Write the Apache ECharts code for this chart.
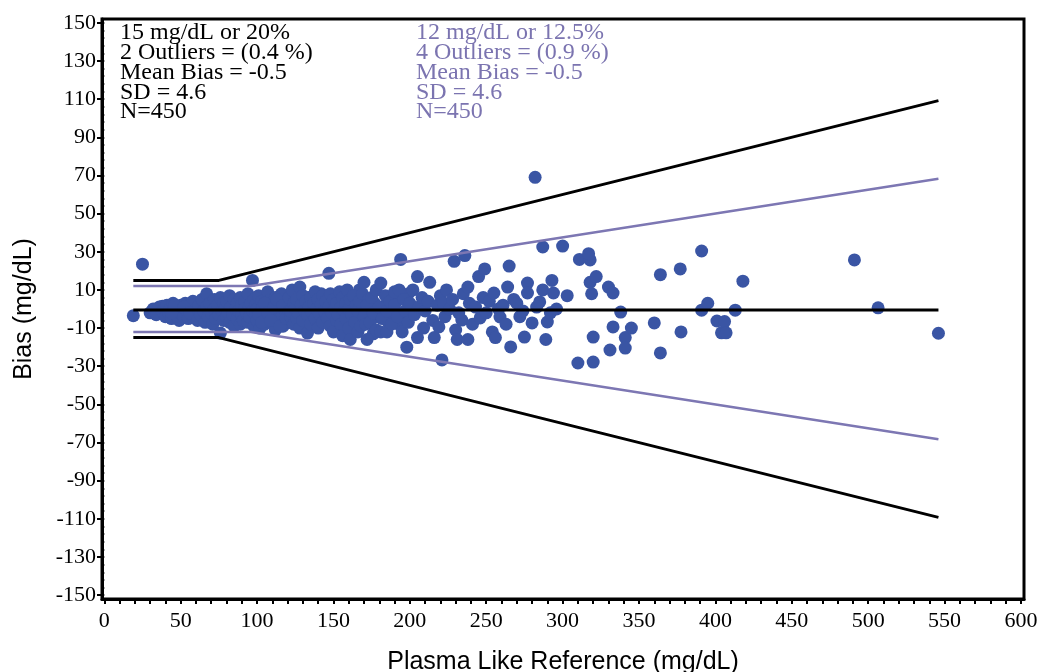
<!DOCTYPE html>
<html>
<head>
<meta charset="utf-8">
<script src="https://cdn.jsdelivr.net/npm/echarts@6/dist/echarts.min.js"></script>
<style>html,body{margin:0;padding:0;background:#fff;}#c{width:1043px;height:672px;}</style>
</head>
<body>
<div id="c"></div>
<script>
// ---- data ----
const xTickLabels = [0,50,100,150,200,250,300,350,400,450,500,550,600];
const xTicks = [0,10,20,30,40,50,60,70,80,90,100,110,120,130,140,150,160,170,180,190,200,210,220,230,240,250,260,270,280,290,300,310,320,330,340,350,360,370,380,390,400,410,420,430,440,450,460,470,480,490,500,510,520,530,540,550,560,570,580,590,600];
const yTickLabels = [-150,-130,-110,-90,-70,-50,-30,-10,10,30,50,70,90,110,130,150];
const yMinorTicks = [-150,-146,-142,-138,-134,-130,-126,-122,-118,-114,-110,-106,-102,-98,-94,-90,-86,-82,-78,-74,-70,-66,-62,-58,-54,-50,-46,-42,-38,-34,-30,-26,-22,-18,-14,-10,-6,-2,2,6,10,14,18,22,26,30,34,38,42,46,50,54,58,62,66,70,74,78,82,86,90,94,98,102,106,110,114,118,122,126,130,134,138,142,146,150];

const limit15Upper = [[19,15],[75,15],[546,109.2]];
const limit15Lower = [[19,-15],[75,-15],[546,-109.2]];
const limit12Upper = [[19,12],[96,12],[546,68.25]];
const limit12Lower = [[19,-12],[96,-12],[546,-68.25]];
const meanBiasLine = [[19,-0.5],[546,-0.5]];

const leftText = ["15 mg/dL or 20%","2 Outliers = (0.4 %)","Mean Bias = -0.5","SD = 4.6","N=450"];
const rightText = ["12 mg/dL or 12.5%","4 Outliers = (0.9 %)","Mean Bias = -0.5","SD = 4.6","N=450"];

const points = [
[19,-3.5],[25,23.5],[38,1.5],
[30,-2],[32,0],[34,-3],[36,1],[38,-1],[40,-4],[41,2],[42,-2],[43,0],[44,-5],[45,3],[46,-1],[47,-3],[48,1],[49,-6],[50,2],[50,-2],[51,0],[52,-4],[53,3],[54,-1],[55,-5],[56,1],[57,-3],[58,4],[59,-2],[60,0],
[44,-2],[46,2],[52,1],[56,-2],[62,-1],[64,-4],[68,1],[70,4],[74,-1],[78,-2],[84,2],[86,-6],[88,4],[91,1],[93,-5],[96,-2],[98,0],
[61,-6],[62,2],[63,-3],[64,5],[65,-1],[66,-7],[67,8],[67,1],[68,-4],[69,3],[70,-2],[71,-8],[72,0],[72,5],[73,-5],[74,2],[75,-3],[76,-12.6],[76,6],[77,-1],[78,-6],[78,3],[79,0],[80,-4],[80,4],
[81,-2],[82,7],[82,-7],[83,1],[84,-3],[85,5],[85,-9],[86,0],[87,-5],[87,3],[88,-1],[89,6],[89,-8],[90,2],[90,-3],[91,-6],[92,4],[92,0],[93,-2],[94,8],[94,-7],[95,1],[95,-4],[96,3],[97,15],[97,-1],[98,-9],[98,5],[99,-3],[99,2],[100,0],[100,-6],
[101,7],[102,-2],[102,-10],[103,4],[104,-5],[104,1],[105,-8],[106,3],[106,-1],[107,9],[108,-4],[108,0],[109,5],[110,-7],[110,2],[111,-3],[112,6],[112,-11],[113,-1],[114,3],[114,-6],[115,1],[116,-4],[116,8],[117,-9],[118,0],[118,4],[119,-2],[120,-7],[120,2],
[101,-3],[103,-7],[105,3],[107,-2],[109,-6],[111,1],[113,5],[115,-9],[117,2],[119,-5],[121,-1],[123,-6],[125,4],[127,-8],[129,-3],[131,3],[132,-9],[134,6],[136,-6],[137,-1],[139,4],[141,-8],[142,8],[144,-4],[146,2],[149,-7],[151,4],[153,-10],[154,-1],[157,5],[159,-7],[162,1],[163,-11],[165,-5],[167,10],[168,-2],[169,3],
[121,6],[122,-4],[122,-1],[123,10],[124,3],[124,-8],[125,0],[126,-5],[126,5],[127,-2],[128,11.5],[128,-10],[129,2],[130,-6],[130,7],[131,-1],[132,4],[133,-12.6],[133,-3],[134,1],[135,-8],[135,6],[136,-2],[137,3],[138,-5],[138,9],[139,0],[140,-10],[140,5],[141,-3],[142,2],[143,-7],[143,7],[144,-1],[145,4],
[146,-5],[147,18.7],[147,1],[148,-9],[148,8],[149,-2],[150,5],[150,-12],[151,0],[152,-6],[152,3],[153,-3],[154,9],[155,-8],[155,1],[156,-14],[156,6],[157,-1],[158,-5],[158,3],[159,10],[160,-10],[160,0],[161,-16],[161,5],[162,-3],[163,7],[164,-7],[165,2],[166,-12],[166,-1],[167,4],[168,-9],[169,8],[170,14],[170,-4],
[171,-8],[173,5],[176,-13],[177,3],[179,-4],[183,1],[186,-7],[189,-2],[191,6],[194,-9],[196,-3],[199,8],
[172,-16],[172,2],[174,-7],[175,6],[176,-2],[178,10],[178,-11],[180,1],[181,13.6],[181,-12],[182,-5],[184,7],[185,-12],[185,-1],[187,4],[188,-8],[190,2],[190,9],[192,-4],[193,10],[194,26],[195,-12],[196,5],[197,-1],[198,-20],[199,-7],[200,3],
[202,10],[203,-3],[205,17],[205,-15],[206,1],[208,6],[209,-10],[210,-1],[212,4],[213,14],[215,-6],[216,-15],[218,2],[219,-9.4],[220,7],[221,-26.7],[222,3],[223,-4],[224,10],[226,0],[228,5],[229,25],[230,-11],[231,-16],[232,-2],[234,-5.8],[235,8],[236,28],[238,11.5],[238,-16],[239,3],[241,-8],[243,1],[245,17],[246,-4.7],[248,6],[249,21],[250,-2],[252,4],[254,-12],[255,8.4],[256,-15],[258,0],[259,-4.2],[261,2],[263,-8],[264,11.5],[265,22.5],[266,-19.9],[268,5],[270,3],[272,-4],[274,-1],[275,-14.7],[277,13.6],[277,8.4],[280,-7.3],[282,69],[283,1],[285,3.7],[287,10],[287,32.5],[289,-16],[290,-6.8],[292,-2],[293,15],[294,8.4],[296,0],[300,33],[303,7],
[310,-28.3],[311,26],[318,25.7],[317,29],[318,14],[319,8],[320,-14.7],[320,-27.8],[322,17],[330,11.5],[331,-21.5],[333,8.4],[333,-9.4],[338,-1.6],[341,-15],[341,-20.5],[345,-10],[360,-7.3],[364,-23],[364,18],[377,21],[377.5,-12],[391,-0.6],[391,30.4],[395,3],[401,-6.3],[404,-12.5],[406,-6.6],[407,-12.5],[413,-0.6],[418,14.6],[491,25.7],[506.5,0.6],[546,-12.7]
];

// ---- chart ----
const serif = '"Liberation Serif", "Times New Roman", serif';
const sans = '"Liberation Sans", Arial, sans-serif';
const purple = '#7d77b3';
const textPurple = '#7b74b0';

function textLines(lines, x, color) {
  return lines.map((t, i) => ({
    type: 'text',
    left: x,
    top: 21 + i * 19.75,
    z: 100,
    style: { text: t, fill: color, font: '24px ' + serif }
  }));
}

const chart = echarts.init(document.getElementById('c'), null, { renderer: 'canvas' });
const lineStyleBase = { type: 'line', symbol: 'none', silent: true, z: 5, animation: false };
chart.setOption({
  animation: false,
  grid: { left: 102, right: 19, top: 19, bottom: 73, outerBoundsMode: 'none', containLabel: false, show: true, borderColor: '#000', borderWidth: 3, backgroundColor: 'transparent' },
  xAxis: {
    type: 'value', min: -1.5, max: 602,
    name: 'Plasma Like Reference (mg/dL)', nameLocation: 'middle', nameGap: 51,
    nameTextStyle: { fontFamily: sans, fontSize: 25, color: '#000' },
    axisLine: { show: true, onZero: false, lineStyle: { color: '#000', width: 3 } },
    axisTick: { show: true, customValues: xTicks, length: 5, lineStyle: { color: '#000', width: 2 } },
    axisLabel: { customValues: xTickLabels, fontFamily: serif, fontSize: 22, color: '#000', margin: 11 },
    splitLine: { show: false }
  },
  yAxis: [{
    type: 'value', min: -152, max: 152,
    name: 'Bias (mg/dL)', nameLocation: 'middle', nameGap: 65,
    nameTextStyle: { fontFamily: sans, fontSize: 25, color: '#000' },
    axisLine: { show: true, onZero: false, lineStyle: { color: '#000', width: 3 } },
    axisTick: { show: true, customValues: yTickLabels, length: 5, lineStyle: { color: '#000', width: 2 } },
    axisLabel: { customValues: yTickLabels, fontFamily: serif, fontSize: 22, color: '#000', margin: 6 },
    splitLine: { show: false }
  }, {
    type: 'value', min: -152, max: 152, position: 'left',
    axisLine: { show: false },
    axisTick: { show: true, customValues: yMinorTicks, length: 2.5, lineStyle: { color: '#000', width: 2 } },
    axisLabel: { show: false },
    splitLine: { show: false }
  }],
  series: [
    { type: 'scatter', data: points, symbol: 'circle', symbolSize: 13, itemStyle: { color: '#3a55a4', opacity: 1 }, z: 2 },
    Object.assign({}, lineStyleBase, { data: limit12Upper, lineStyle: { color: purple, width: 2.5 } }),
    Object.assign({}, lineStyleBase, { data: limit12Lower, lineStyle: { color: purple, width: 2.5 } }),
    Object.assign({}, lineStyleBase, { data: limit15Upper, lineStyle: { color: '#000', width: 3 } }),
    Object.assign({}, lineStyleBase, { data: limit15Lower, lineStyle: { color: '#000', width: 3 } }),
    Object.assign({}, lineStyleBase, { data: meanBiasLine, lineStyle: { color: '#000', width: 3 } })
  ],
  graphic: textLines(leftText, 120, '#000').concat(textLines(rightText, 416, textPurple))
});
</script>
</body>
</html>
